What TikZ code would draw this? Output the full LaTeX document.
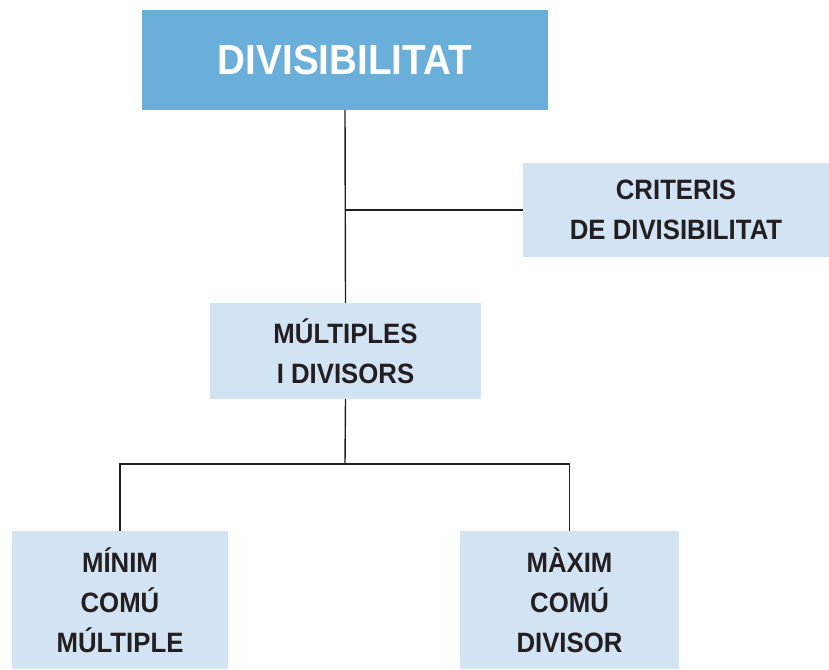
\documentclass[tikz,border=0pt]{standalone}
\usepackage{fontspec}
\newfontfamily\boxfont{Liberation Sans}[FakeStretch=0.92]
\definecolor{headblue}{HTML}{6AAEDA}
\definecolor{paleblue}{HTML}{D2E3F4}
\definecolor{inkdark}{HTML}{231F20}
\begin{document}
\begin{tikzpicture}[x=1pt,y=-1pt,
  headbox/.style={rectangle, fill=headblue, inner sep=0pt, text=white,
    font=\boxfont\bfseries\fontsize{42}{50}\selectfont},
  subbox/.style={rectangle, fill=paleblue, inner sep=0pt, text=inkdark, align=center,
    font=\boxfont\bfseries\fontsize{28}{40}\selectfont},
  link/.style={draw=inkdark, line width=1.4pt}]
  \useasboundingbox (0,0) rectangle (829,669);

  % boxes
  \node[headbox, minimum width=406pt, minimum height=100pt] (top) at (345,60) {DIVISIBILITAT};
  \node[subbox, minimum width=306pt, minimum height=94pt] (crit) at (676,210)
    {CRITERIS\\DE DIVISIBILITAT};
  \node[subbox, minimum width=271pt, minimum height=96pt] (mult) at (345.5,351)
    {MÚLTIPLES\\I DIVISORS};
  \node[subbox, minimum width=216pt, minimum height=138pt] (minim) at (120,600)
    {MÍNIM\\COMÚ\\MÚLTIPLE};
  \node[subbox, minimum width=219pt, minimum height=138pt] (maxim) at (569.5,600)
    {MÀXIM\\COMÚ\\DIVISOR};

  % connectors
  \coordinate (fork) at (345,464);
  \draw[link] (top.south) -- (mult.north);
  \draw[link] (top.south |- crit.west) -- (crit.west);
  \draw[link] (mult.south) -- (fork);
  \draw[link] (minim.north) |- (fork) -| (maxim.north);
\end{tikzpicture}
\end{document}
